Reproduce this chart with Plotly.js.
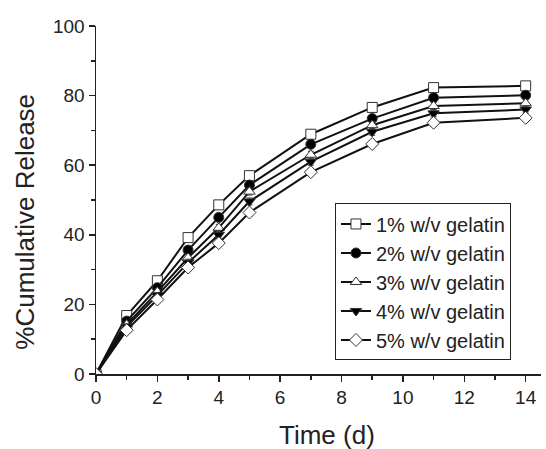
<!DOCTYPE html>
<html>
<head>
<meta charset="utf-8">
<script src="https://cdn.plot.ly/plotly-3.0.1.min.js"></script>
<style>html,body{margin:0;padding:0;background:#fff;}#chart{width:546px;height:449px;}</style>
</head>
<body>
<div id="chart"></div>
<script>
const days = [0, 1, 2, 3, 4, 5, 7, 9, 11, 14];
const seriesNames = ["1% w/v gelatin", "2% w/v gelatin", "3% w/v gelatin", "4% w/v gelatin", "5% w/v gelatin"];
const gel1 = [0, 16.8, 26.8, 39.2, 48.6, 57.0, 68.9, 76.6, 82.3, 82.8];
const gel2 = [0, 15.2, 24.8, 35.6, 45.0, 54.3, 66.0, 73.4, 79.4, 80.1];
const gel3 = [0, 14.2, 23.6, 33.4, 42.0, 52.4, 63.0, 71.5, 77.0, 77.8];
const gel4 = [0, 13.6, 22.6, 32.0, 40.0, 49.6, 61.0, 69.6, 74.9, 76.0];
const gel5 = [0, 12.6, 21.4, 30.6, 37.6, 46.4, 58.0, 66.1, 72.2, 73.6];
const err1 = [0, 1.0, 1.0, 1.2, 1.2, 1.0, 1.0, 1.2, 1.2, 1.2];
const err2 = [0, 0.8, 0.8, 1.0, 1.0, 1.0, 1.0, 1.0, 1.0, 1.0];
const err3 = [0, 0.8, 0.8, 1.0, 1.0, 1.0, 1.0, 1.0, 1.0, 1.0];
const err4 = [0, 0.8, 0.8, 1.0, 1.0, 1.0, 1.0, 1.0, 1.0, 1.0];
const err5 = [0, 0.8, 0.8, 1.0, 1.0, 1.0, 1.0, 1.0, 1.0, 1.0];
const xTitle = "Time (d)";
const yTitle = "%Cumulative Release";

const values = [gel1, gel2, gel3, gel4, gel5];
const errors = [err1, err2, err3, err4, err5];
const symbols = ["square", "circle", "triangle-up", "triangle-down", "diamond"];
const fills = ["#ffffff", "#000000", "#ffffff", "#000000", "#ffffff"];

const traces = values.map((v, i) => ({
  x: days,
  y: v,
  name: seriesNames[i],
  type: "scatter",
  mode: "lines+markers",
  line: {color: "#111", width: 2},
  marker: {symbol: symbols[i], size: 10, color: fills[i], line: {color: "#333", width: 1}},
  error_y: {type: "data", array: errors[i], visible: true, color: "#444", thickness: 1, width: 3}
}));

const layout = {
  width: 546, height: 449,
  margin: {l: 96, r: 5, t: 26, b: 75},
  paper_bgcolor: "#fff", plot_bgcolor: "#fff",
  font: {family: "Liberation Sans, Arial, sans-serif", color: "#222"},
  showlegend: true,
  legend: {
    x: 0.537, y: 0.49, xanchor: "left", yanchor: "top",
    bgcolor: "#fff", bordercolor: "#222", borderwidth: 1,
    font: {size: 20, color: "#222"}, tracegroupgap: 0
  },
  xaxis: {
    range: [0, 14.5], showgrid: false, zeroline: false,
    showline: true, linecolor: "#222", linewidth: 1.5,
    ticks: "outside", tickwidth: 1.5, ticklen: 6, tickcolor: "#222",
    tickvals: [0, 2, 4, 6, 8, 10, 12, 14],
    minor: {tickvals: [1, 3, 5, 7, 9, 11, 13], ticks: "outside", ticklen: 4, tickwidth: 1.5, tickcolor: "#222"},
    tickfont: {size: 19, color: "#222"}
  },
  yaxis: {
    range: [0, 100], showgrid: false, zeroline: false,
    showline: true, linecolor: "#222", linewidth: 1.5,
    ticks: "outside", tickwidth: 1.5, ticklen: 6, tickcolor: "#222",
    tickvals: [0, 20, 40, 60, 80, 100],
    minor: {tickvals: [10, 30, 50, 70, 90], ticks: "outside", ticklen: 4, tickwidth: 1.5, tickcolor: "#222"},
    tickfont: {size: 19, color: "#222"}
  },
  annotations: [
    {text: xTitle, xref: "paper", yref: "paper", x: 0.519, y: -0.175, xanchor: "center", yanchor: "middle",
     showarrow: false, font: {size: 26, color: "#222"}},
    {text: yTitle, xref: "paper", yref: "paper", x: -0.16, y: 0.437, xanchor: "center", yanchor: "middle",
     textangle: -90, showarrow: false, font: {size: 26, color: "#222"}}
  ]
};

Plotly.newPlot("chart", traces, layout, {displayModeBar: false, staticPlot: true});
</script>
</body>
</html>
